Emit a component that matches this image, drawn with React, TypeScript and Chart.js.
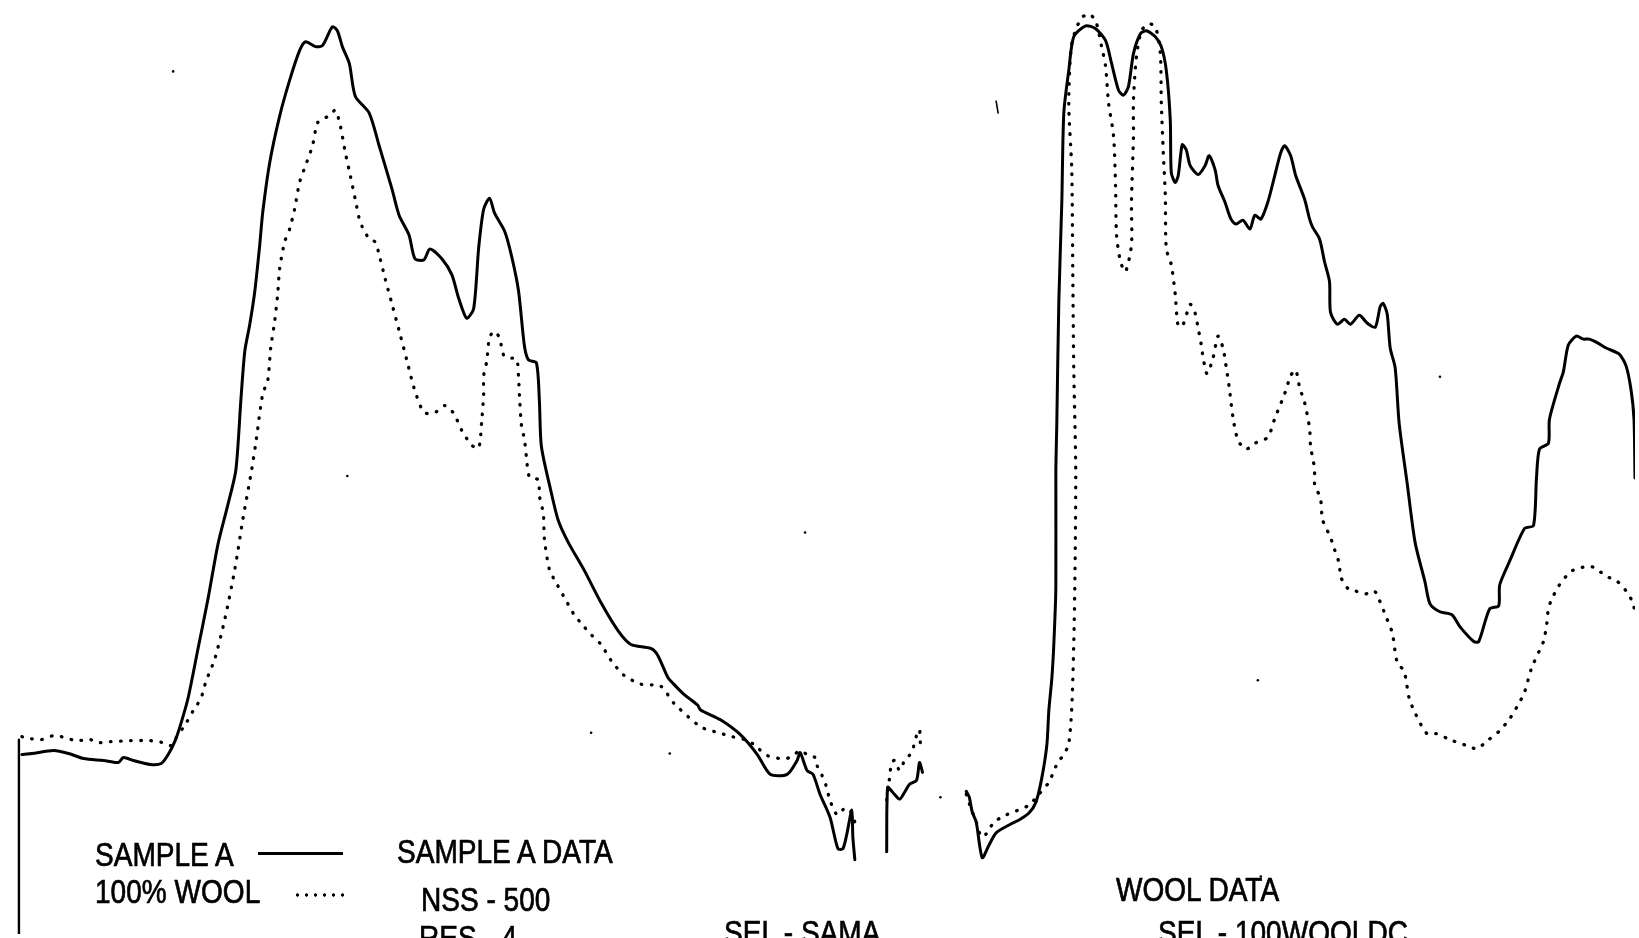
import React, { useEffect, useRef } from "react";
import { Chart, registerables } from "chart.js";

Chart.register(...registerables);

// Horizontal position (chart units) and signal depth (chart units, measured downward)
const sampleASeg1: number[][] = [
  [18,757],[28,756],[50,753],[65,756],[80,761],[100,763],[115,765],[120,760],[130,763],[147,767],[158,766],[165,757],[172,743],[178,725],[185,700],[195,650],[205,600],[215,545],[225,505],[233,470],[238,400],[242,350],[247,323],[252,290],[257,243],[260,210],[267,160],[277,113],[287,77],[297,47],[303,38],[313,43],[320,42],[330,23],[335,27],[340,43],[347,60],[353,93],[367,110],[377,143],[390,187],[397,213],[407,233],[413,257],[422,258],[428,247],[440,257],[450,273],[457,297],[465,317],[472,307],[477,246],[482,207],[488,196],[493,211],[503,229],[510,254],[517,289],[523,345],[527,359],[535,362],[538,400],[540,446],[550,493],[557,521],[567,543],[583,571],[600,604],[617,632],[630,646],[650,650],[657,657],[667,679],[673,686],[683,696],[697,707],[700,712],[720,722],[740,737],[757,757],[770,777],[787,777],[797,763],[800,755],[807,773],[813,777],[820,797],[830,820],[838,852],[843,852],[847,837],[852,813],[853,840],[855,863]
];
const sampleASeg2: number[][] = [
  [887,855],[888,790],[893,795],[900,802],[905,795],[910,787],[917,783],[920,765],[923,775]
];
const sampleASeg3: number[][] = [
  [967,794],[970,800],[973,815],[977,825],[983,861],[990,848],[997,836],[1010,828],[1020,823],[1030,816],[1037,805],[1043,780],[1048,747],[1050,712],[1053,680],[1055,645],[1057,589],[1057,473],[1058,421],[1060,300],[1063,200],[1065,110],[1070,67],[1075,33],[1087,22],[1097,25],[1107,37],[1113,60],[1120,87],[1125,92],[1130,83],[1135,50],[1142,30],[1148,27],[1157,33],[1163,43],[1168,67],[1172,117],[1173,170],[1177,180],[1180,173],[1184,142],[1188,147],[1192,163],[1200,172],[1207,163],[1211,153],[1217,167],[1220,183],[1227,200],[1233,217],[1238,222],[1245,218],[1252,227],[1257,213],[1263,217],[1270,200],[1277,173],[1283,150],[1287,143],[1293,153],[1298,173],[1307,197],[1312,217],[1315,225],[1322,237],[1327,260],[1332,280],[1333,311],[1340,323],[1347,318],[1353,323],[1362,314],[1370,322],[1378,326],[1383,305],[1386,302],[1390,313],[1393,347],[1398,367],[1402,423],[1410,483],[1418,543],[1428,583],[1433,605],[1443,613],[1455,616],[1463,628],[1477,643],[1482,643],[1493,610],[1502,607],[1503,586],[1513,562],[1528,529],[1537,526],[1540,478],[1543,449],[1552,443],[1553,419],[1563,383],[1567,371],[1572,344],[1580,335],[1587,338],[1593,338],[1600,341],[1610,347],[1623,353],[1630,365],[1635,389],[1638,419],[1639,478]
];

const woolSeg1: number[][] = [
  [18,739],[27,741],[37,742],[50,738],[62,740],[72,743],[87,742],[93,745],[107,744],[127,743],[147,743],[160,745],[168,748],[173,740],[182,727],[190,713],[198,700],[203,683],[212,660],[222,620],[232,570],[240,520],[248,475],[253,443],[260,393],[265,380],[268,347],[272,320],[275,293],[277,267],[282,240],[287,227],[292,207],[297,180],[303,163],[310,143],[315,120],[322,115],[327,113],[333,107],[338,123],[343,150],[348,173],[353,197],[358,220],[367,237],[373,240],[378,257],[383,277],[390,303],[398,333],[405,360],[412,387],[422,412],[433,412],[443,405],[452,413],[460,430],[470,445],[477,448],[480,421],[482,393],[482,375],[485,361],[488,336],[493,330],[498,337],[502,354],[507,357],[515,358],[517,375],[518,395],[520,425],[523,439],[525,457],[528,477],[537,480],[538,496],[542,514],[543,539],[548,570],[555,584],[565,602],[573,616],[582,627],[590,636],[600,646],[610,662],[623,677],[640,686],[660,688],[673,705],[700,729],[718,735],[732,739],[748,743],[757,750],[767,758],[780,761],[790,760],[800,753],[807,757],[815,760],[817,768],[822,778],[826,788],[830,803],[835,815],[838,818],[845,811],[850,813],[855,825]
];
const woolSeg2: number[][] = [
  [887,803],[890,780],[892,765],[895,763],[900,773],[905,763],[912,755],[917,738],[920,732],[921,750]
];
const woolSeg3: number[][] = [
  [967,797],[972,812],[977,825],[982,840],[987,837],[995,825],[1007,818],[1017,814],[1030,808],[1040,797],[1050,785],[1057,769],[1070,746],[1075,645],[1077,475],[1075,367],[1074,267],[1073,167],[1070,100],[1073,40],[1082,15],[1090,10],[1097,17],[1103,43],[1107,63],[1110,100],[1115,133],[1117,183],[1118,233],[1122,260],[1127,270],[1133,243],[1133,200],[1135,133],[1135,97],[1138,53],[1143,27],[1150,20],[1157,23],[1162,50],[1163,100],[1165,150],[1167,193],[1168,247],[1173,263],[1177,293],[1180,325],[1185,323],[1192,303],[1197,312],[1200,327],[1203,343],[1205,357],[1209,373],[1215,357],[1220,335],[1225,347],[1228,365],[1231,385],[1235,417],[1240,440],[1248,449],[1257,443],[1270,437],[1277,418],[1287,393],[1293,375],[1298,369],[1302,387],[1307,402],[1312,428],[1313,446],[1317,469],[1317,484],[1323,499],[1325,520],[1333,538],[1337,550],[1342,565],[1343,577],[1350,589],[1358,592],[1368,595],[1377,592],[1382,601],[1388,616],[1395,634],[1400,664],[1407,673],[1412,700],[1418,715],[1430,736],[1440,736],[1453,742],[1470,748],[1480,751],[1492,742],[1503,733],[1513,721],[1522,706],[1528,694],[1535,670],[1543,652],[1547,643],[1550,628],[1552,610],[1555,601],[1563,586],[1570,577],[1577,571],[1587,568],[1597,568],[1610,577],[1622,583],[1630,592],[1637,604],[1639,616]
];

const axisLine: number[][] = [[15,742],[15,945]];
const tickMark: number[][] = [[997,98],[999,110]];
const specks: number[][] = [[170,68],[345,476],[805,533],[669,756],[1260,682],[1443,376],[941,800],[1263,880],[590,735]];

const legendLabels = ["SAMPLE A", "100% WOOL"];
const sampleInfo = ["SAMPLE A DATA", "NSS - 500", "RES - 4", "SEL - SAMA"];
const woolInfo = ["WOOL DATA", "SEL - 100WOOLDC"];

const W = 1639;
const H = 938;

const toPts = (seg: number[][]) => seg.map(([x, y]) => ({ x, y }));

export default function App() {
  const ref = useRef<HTMLCanvasElement | null>(null);

  useEffect(() => {
    if (!ref.current) return;
    const solid = (seg: number[][], label: string) => ({
      label,
      data: toPts(seg),
      borderColor: "#000",
      borderWidth: 3,
      pointRadius: 0,
      tension: 0.25,
      borderJoinStyle: "round" as const,
      borderCapStyle: "round" as const,
      fill: false,
    });
    const dotted = (seg: number[][], label: string) => ({
      label,
      data: toPts(seg),
      borderColor: "#000",
      borderWidth: 3.3,
      borderDash: [0.6, 9.5],
      borderCapStyle: "round" as const,
      pointRadius: 0,
      tension: 0.25,
      fill: false,
    });
    const chart = new Chart(ref.current, {
      type: "line",
      data: {
        datasets: [
          solid(sampleASeg1, "SAMPLE A"),
          solid(sampleASeg2, "SAMPLE A"),
          solid(sampleASeg3, "SAMPLE A"),
          dotted(woolSeg1, "100% WOOL"),
          dotted(woolSeg2, "100% WOOL"),
          dotted(woolSeg3, "100% WOOL"),
          { ...solid(axisLine, "axis"), borderWidth: 2.4, tension: 0 },
          { ...solid(tickMark, "mark"), borderWidth: 1.6, tension: 0 },
          {
            type: "scatter" as const,
            label: "specks",
            data: toPts(specks),
            pointRadius: 1.3,
            pointBackgroundColor: "#000",
            pointBorderWidth: 0,
            showLine: false,
          } as any,
        ],
      },
      options: {
        animation: false,
        responsive: false,
        maintainAspectRatio: false,
        layout: { padding: 0 },
        plugins: { legend: { display: false }, tooltip: { enabled: false } },
        scales: {
          x: { type: "linear", display: false, min: 0, max: W },
          y: { type: "linear", display: false, min: 0, max: H, reverse: true },
        },
      },
    });
    return () => chart.destroy();
  }, []);

  const txt = (s: string, left: number, top: number) => (
    <div
      key={s}
      style={{
        position: "absolute",
        left,
        top,
        fontFamily: "'Liberation Sans', Arial, sans-serif",
        fontSize: 33,
        lineHeight: "33px",
        whiteSpace: "nowrap",
        color: "#000",
        WebkitTextStroke: "0.7px #000",
        transform: "scaleX(0.85)",
        transformOrigin: "left top",
      }}
    >
      {s}
    </div>
  );

  return (
    <div
      style={{
        position: "absolute",
        left: 0,
        top: 0,
        width: W,
        height: H,
        overflow: "hidden",
        background: "#fff",
      }}
    >
      <canvas ref={ref} width={W} height={H} style={{ position: "absolute", left: 0, top: 0, width: W, height: H }} />
      {txt(legendLabels[0], 95, 838)}
      {txt(legendLabels[1], 95, 875)}
      <div style={{ position: "absolute", left: 258, top: 852, width: 85, height: 3, background: "#000" }} />
      <div
        style={{
          position: "absolute",
          left: 293,
          top: 892,
          width: 54,
          height: 6,
          backgroundImage: "radial-gradient(circle, #000 1.4px, rgba(0,0,0,0) 1.9px)",
          backgroundSize: "9px 6px",
          backgroundRepeat: "repeat-x",
        }}
      />
      {txt(sampleInfo[0], 397, 835)}
      {txt(sampleInfo[1], 421, 883)}
      {txt(sampleInfo[2], 419, 921)}
      {txt(sampleInfo[3], 724, 916)}
      {txt(woolInfo[0], 1116, 873)}
      {txt(woolInfo[1], 1158, 916)}
    </div>
  );
}
